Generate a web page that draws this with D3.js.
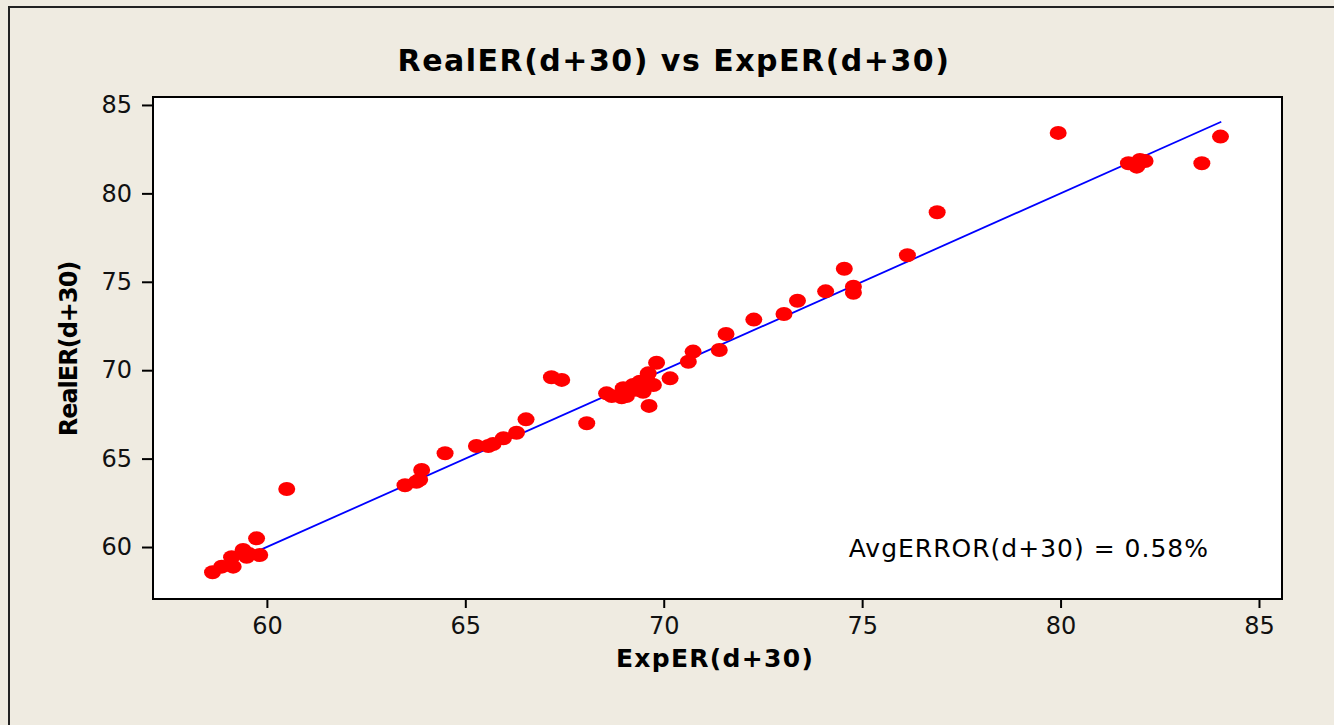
<!DOCTYPE html>
<html>
<head>
<meta charset="utf-8">
<script src="https://cdn.jsdelivr.net/npm/d3@7"></script>
<style>
  body { margin: 0; background: #efebe1; }
  text { font-family: "DejaVu Sans", Verdana, sans-serif; }
</style>
</head>
<body>
<div id="chart"></div>
<script>
// values
const expER = [58.63, 58.86, 59.11, 59.15, 59.40, 59.49, 59.74, 59.82, 59.55, 60.50,
  63.48, 63.77, 63.90, 63.85, 64.49, 65.28, 65.58, 65.70, 65.96, 66.29, 66.53,
  67.17, 67.43, 68.06, 68.56, 68.69, 68.94, 69.06, 68.98, 69.23, 69.40, 69.48,
  69.61, 69.63, 69.82, 69.74, 69.57, 69.30, 70.16, 70.62, 70.74, 71.40, 71.57,
  72.27, 73.03, 73.37, 74.08, 74.55, 74.78, 74.78, 76.14, 76.89,
  79.94, 81.71, 81.92, 82.00, 82.13, 83.56, 84.03];
const realER = [58.57, 58.89, 59.42, 58.89, 59.83, 59.45, 60.49, 59.55, 59.60, 63.28,
  63.49, 63.69, 64.36, 63.80, 65.30, 65.71, 65.71, 65.83, 66.15, 66.46, 67.22,
  69.60, 69.45, 67.00, 68.69, 68.54, 68.47, 68.54, 68.98, 69.16, 69.35, 68.78,
  69.82, 67.98, 70.42, 69.16, 69.50, 68.90, 69.54, 70.48, 71.05, 71.14, 72.05,
  72.86, 73.18, 73.93, 74.46, 75.74, 74.72, 74.38, 76.50, 78.93,
  83.42, 81.70, 81.51, 81.89, 81.83, 81.70, 83.21];
const xTicks = [60, 65, 70, 75, 80, 85];
const yTicks = [60, 65, 70, 75, 80, 85];
const fitLine = [59.85, 84.05];
const avgError = "AvgERROR(d+30) = 0.58%";

const width = 1334, height = 725;
const margin = {left:153, right:52, top:97, bottom:126};

const svg = d3.select("#chart")
              .append("svg")
              .attr("width", width)
              .attr("height", height);

// outer frame
svg.append("rect")
   .attr("x", 9).attr("y", 7)
   .attr("width", width).attr("height", height)
   .attr("fill", "#efebe1")
   .attr("stroke", "#222").attr("stroke-width", 2);

let x = d3.scaleLinear()
          .domain([57.13, 85.58])
          .range([margin.left, width - margin.right]);
let y = d3.scaleLinear()
          .domain([57.06, 85.45])
          .range([height - margin.bottom, margin.top]);

// plot area
svg.append("rect")
   .attr("x", margin.left).attr("y", margin.top)
   .attr("width", width - margin.left - margin.right)
   .attr("height", height - margin.top - margin.bottom)
   .attr("fill", "white")
   .attr("stroke", "black").attr("stroke-width", 2);

let xAxis = svg.append("g")
   .attr("transform", "translate(0," + (height - margin.bottom + 1) + ")")
   .call(d3.axisBottom(x).tickValues(xTicks).tickSize(8).tickSizeOuter(0));
let yAxis = svg.append("g")
   .attr("transform", "translate(" + (margin.left - 1) + ",0)")
   .call(d3.axisLeft(y).tickValues(yTicks).tickSize(10).tickSizeOuter(0));

[xAxis, yAxis].forEach(function(a) {
  a.select(".domain").remove();
  a.selectAll("line").attr("stroke", "black").attr("stroke-width", 2);
  a.selectAll("text")
   .style("font-family", "DejaVu Sans, Verdana, sans-serif")
   .style("font-size", "24px")
   .attr("fill", "#111");
});
xAxis.selectAll("text").attr("dy", "0.95em").attr("y", 11);
yAxis.selectAll("text").attr("x", -20);

// identity / fit line
svg.append("line")
   .attr("x1", x(fitLine[0])).attr("y1", y(fitLine[0]))
   .attr("x2", x(fitLine[1])).attr("y2", y(fitLine[1]))
   .attr("stroke", "#0000ff").attr("stroke-width", 1.8);

// points
svg.selectAll("ellipse")
   .data(expER)
   .enter()
   .append("ellipse")
   .attr("cx", function(d) {return x(d);})
   .attr("cy", function(d, i) {return y(realER[i]);})
   .attr("rx", 8.5)
   .attr("ry", 7)
   .attr("fill", "#ff0000");

// texts
svg.append("text")
   .attr("x", 674).attr("y", 71)
   .attr("text-anchor", "middle")
   .style("font-size", "30px").style("font-weight", "bold")
   .style("letter-spacing", "1.5px")
   .text("RealER(d+30) vs ExpER(d+30)");

svg.append("text")
   .attr("x", 715).attr("y", 667)
   .attr("text-anchor", "middle")
   .style("font-size", "25px").style("font-weight", "bold")
   .style("letter-spacing", "1.3px")
   .text("ExpER(d+30)");

svg.append("text")
   .attr("transform", "translate(77,349) rotate(-90)")
   .attr("text-anchor", "middle")
   .style("font-size", "24px").style("font-weight", "bold")
   .style("letter-spacing", "-1px")
   .text("RealER(d+30)");

svg.append("text")
   .attr("x", 1209).attr("y", 557)
   .attr("text-anchor", "end")
   .style("font-size", "25px")
   .style("letter-spacing", "1px")
   .text(avgError);
</script>
</body>
</html>
